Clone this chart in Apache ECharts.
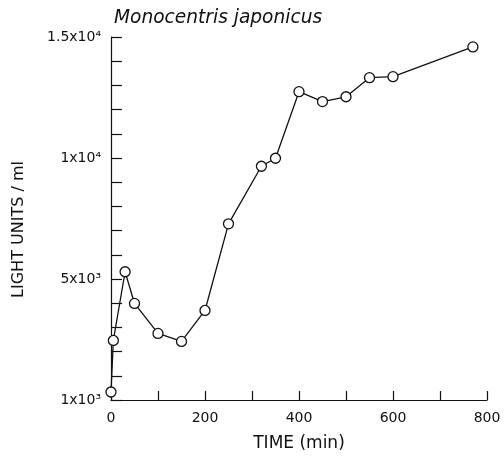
<!DOCTYPE html>
<html>
<head>
<meta charset="utf-8">
<script src="https://cdn.jsdelivr.net/npm/echarts@6/dist/echarts.min.js"></script>
<style>
	html, body { margin: 0; padding: 0; background: #fff; }
	#chart { width: 504px; height: 457px; }
</style>
</head>
<body>
<div id="chart"></div>
<script>
// time (min) and light units / ml
var timeMin = [0, 5, 30, 50, 100, 150, 200, 250, 320, 350, 400, 450, 500, 550, 600, 770];
var lightUnits = [330, 2460, 5300, 3990, 2750, 2420, 3700, 7280, 9660, 9990, 12740, 12330, 12530, 13320, 13360, 14590];

var yTickValues = [0, 5000, 10000, 15000];
var yTickLabels = ['1x10³', '5x10³', '1x10⁴', '1.5x10⁴'];
var xTickLabels = [0, 200, 400, 600, 800];

var points = [];
for (var i = 0; i < timeMin.length; i++) {
	points.push([timeMin[i], lightUnits[i]]);
}

var font = 'DejaVu Sans';
var ink = '#111';

var myChart = echarts.init(document.getElementById('chart'));
var option = {
	backgroundColor: '#fff',
	animation: false,
	title: {
		text: 'Monocentris japonicus',
		left: 109,
		top: 4,
		textStyle: {
			fontFamily: font,
			fontStyle: 'italic',
			fontWeight: 'normal',
			fontSize: 18.6,
			color: ink
		}
	},
	grid: { left: 111, right: 17, top: 37, bottom: 55 },
	xAxis: {
		type: 'value',
		min: 0,
		max: 800,
		interval: 100,
		name: 'TIME (min)',
		nameLocation: 'middle',
		nameGap: 35,
		nameTextStyle: { fontFamily: font, fontSize: 17, color: ink },
		axisLine: { lineStyle: { color: ink, width: 1.2 } },
		axisTick: { inside: true, length: 9, lineStyle: { color: ink, width: 1.2 } },
		splitLine: { show: false },
		axisLabel: {
			margin: 11,
			fontFamily: font,
			fontSize: 14,
			color: ink,
			formatter: function (v) {
				return xTickLabels.indexOf(v) >= 0 ? String(v) : '';
			}
		}
	},
	yAxis: {
		type: 'value',
		min: 0,
		max: 15000,
		interval: 1000,
		name: 'LIGHT UNITS / ml',
		nameLocation: 'middle',
		nameGap: 84,
		nameTextStyle: { fontFamily: font, fontSize: 16, color: ink, padding: [0, 22, 0, 0] },
		axisLine: { lineStyle: { color: ink, width: 1.2 } },
		axisTick: { inside: true, length: 11, lineStyle: { color: ink, width: 1.2 } },
		splitLine: { show: false },
		axisLabel: {
			margin: 10,
			fontFamily: font,
			fontSize: 14,
			color: ink,
			padding: [0, 0, 5, 0],
			formatter: function (v) {
				var k = yTickValues.indexOf(v);
				return k >= 0 ? yTickLabels[k] : '';
			}
		}
	},
	series: [{
		type: 'line',
		data: points,
		symbol: 'circle',
		symbolSize: 10,
		itemStyle: { color: '#fff', borderColor: ink, borderWidth: 1.3 },
		lineStyle: { color: ink, width: 1.3 },
		z: 3
	}]
};
myChart.setOption(option);
</script>
</body>
</html>
